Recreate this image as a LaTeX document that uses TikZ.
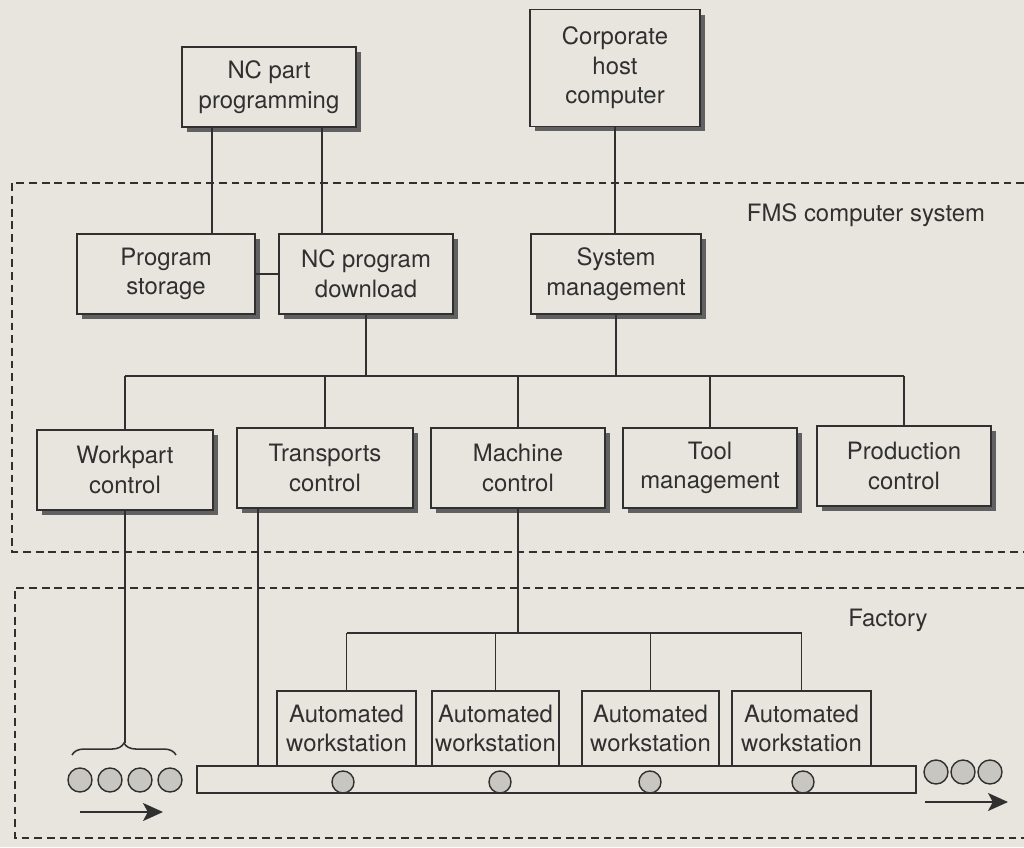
\documentclass[tikz,border=0pt]{standalone}
\usepackage{fontspec}
\setmainfont{TeX Gyre Heros}
\usepackage{tikz}
\usetikzlibrary{shadows,decorations.pathreplacing,arrows.meta}

\definecolor{paper}{RGB}{232,229,222}
\definecolor{ink}{RGB}{48,48,48}
\definecolor{roll}{RGB}{200,198,192}

\tikzset{
  every node/.style={font=\fontsize{17}{21}\selectfont, text=ink},
  unit/.style={draw=ink, line width=1.2pt, fill=paper, align=center,
    minimum width=4.35cm, minimum height=2cm, inner sep=2pt,
    drop shadow={shadow xshift=3.5pt, shadow yshift=-3.5pt, fill=black!62, opacity=1}},
  station/.style={draw=ink, line width=1.2pt, fill=paper, align=center,
    minimum height=1.875cm, inner sep=1pt},
  link/.style={draw=ink, line width=1.1pt},
  frame/.style={draw=ink, line width=1.1pt, dash pattern=on 5.5pt off 3.5pt},
  pallet/.style={circle, draw=ink, line width=1pt, fill=roll, minimum size=0.6cm, inner sep=0pt},
}

\begin{document}
\begin{tikzpicture}[x=0.025cm, y=-0.025cm]
	\useasboundingbox (0,0) rectangle (1024,847);
	\fill[paper] (0,0) rectangle (1024,847);

	% dashed areas
	\draw[frame] (1024,183) -- (12,183) -- (12,552) -- (1024,552);
	\draw[frame] (1024,588) -- (15,588) -- (15,838) -- (1024,838);
	\node[anchor=east] (fmslbl) at (990,215) {FMS computer system};
	\node (factlbl) at (888,620) {Factory};

	% upper level
	\node[unit] (npp) at (269,87) {NC part\\programming};
	\node[unit, minimum width=4.25cm, minimum height=2.92cm] (host) at (615,68) {Corporate\\host\\computer};

	% FMS computer system
	\node[unit, minimum width=4.45cm] (ps) at (166,274) {Program\\storage};
	\node[unit] (npd) at (366,274) {NC program\\download};
	\node[unit, minimum width=4.25cm] (sm) at (616,274) {System\\management};

	\node[unit, minimum width=4.4cm] (wc) at (125,470) {Workpart\\control};
	\node[unit, minimum width=4.4cm] (tc) at (325,468) {Transports\\control};
	\node[unit] (mc) at (518,468) {Machine\\control};
	\node[unit] (tm) at (710,468) {Tool\\management};
	\node[unit] (pc) at (904,466) {Production\\control};

	\coordinate (lx) at (212,0);
	\coordinate (rx) at (322,0);
	\draw[link] (npp.south -| lx) -- (ps.north -| lx);
	\draw[link] (npp.south -| rx) -- (npd.north -| rx);
	\draw[link] (ps.east) -- (npd.west);
	\draw[link] (host.south) -- (host.south |- sm.north);

	\coordinate (bus) at (0,376);
	\draw[link] (npd.south) -- (npd.south |- bus);
	\draw[link] (sm.south) -- (sm.south |- bus);
	\draw[link] (wc.north |- bus) -- (pc.north |- bus);
	\foreach \n in {wc,tc,mc,tm,pc}
		\draw[link] (\n.north |- bus) -- (\n.north);

	% factory floor
	\node[draw=ink, line width=1.2pt, fill=paper, minimum width=17.975cm, minimum height=0.675cm, inner sep=0pt] (conv) at (556.5,779.5) {};

	\node[station, minimum width=3.475cm] (ws1) at (346.5,728.5) {Automated\\workstation};
	\node[station, minimum width=3.175cm] (ws2) at (495.5,728.5) {Automated\\workstation};
	\node[station, minimum width=3.425cm] (ws3) at (650.5,728.5) {Automated\\workstation};
	\node[station, minimum width=3.475cm] (ws4) at (801.5,728.5) {Automated\\workstation};

	\foreach \x [count=\i] in {343,500,650,803}
		\node[pallet, minimum size=0.55cm] (r\i) at (\x,782) {};

	\coordinate (wsbus) at (0,633);
	\draw[link] (mc.south) -- (mc.south |- wsbus);
	\draw[link] (ws1.north |- wsbus) -- (ws4.north |- wsbus);
	\foreach \n in {ws1,ws2,ws3,ws4}
		\draw[link] (\n.north |- wsbus) -- (\n.north);

	\coordinate (tx) at (258,0);
	\draw[link] (tc.south -| tx) -- (conv.north -| tx);

	% parts waiting and leaving
	\foreach \x [count=\i] in {80,110,140,170}
		\node[pallet] (in\i) at (\x,780) {};
	\foreach \x [count=\i] in {936,963,990}
		\node[pallet] (out\i) at (\x,772) {};

	\draw[link, decorate, decoration={brace, amplitude=8.5pt}] (72,755) -- (176,755);
	\coordinate (bracetip) at (124,743);
	\draw[link] (wc.south) -- (wc.south |- bracetip);

	\coordinate (inA) at (80,812);
	\coordinate (inB) at (163,812);
	\coordinate (outA) at (925,802);
	\coordinate (outB) at (1008,802);
	\draw[link, -{Stealth[length=0.5cm, width=0.45cm, inset=0.12cm]}] (inA) -- (inB);
	\draw[link, -{Stealth[length=0.5cm, width=0.45cm, inset=0.12cm]}] (outA) -- (outB);
\end{tikzpicture}
\end{document}
